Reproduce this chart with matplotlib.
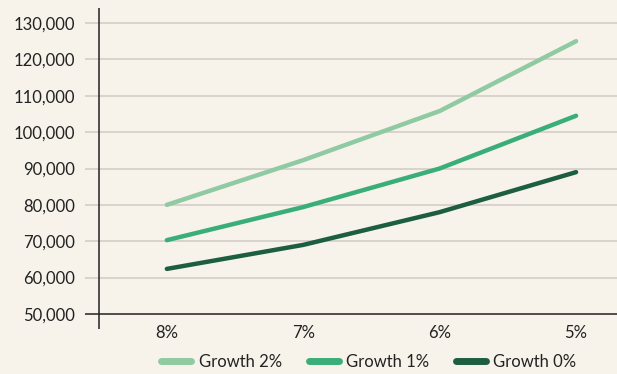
import matplotlib
matplotlib.use("Agg")
import matplotlib.pyplot as plt
from matplotlib.ticker import FuncFormatter

categories = ["8%", "7%", "6%", "5%"]
growth_2 = [80000, 92300, 105800, 125000]
growth_1 = [70300, 79400, 90000, 104500]
growth_0 = [62400, 69000, 78000, 89000]
series_names = ["Growth 2%", "Growth 1%", "Growth 0%"]
y_ticks = [50000, 60000, 70000, 80000, 90000, 100000, 110000, 120000, 130000]

colors = ["#8fcaa2", "#3aae78", "#1d5e40"]
bg = "#f7f3eb"

plt.rcParams['font.family'] = ['Lato', 'DejaVu Sans']

W, H = 617, 374
fig = plt.figure(figsize=(W / 100, H / 100), dpi=100, facecolor=bg)
ax = fig.add_axes([85 / W, 1 - 329 / H, (W - 85) / W, (329 - 8) / H])
ax.set_facecolor(bg)

for s in ax.spines.values():
    s.set_visible(False)

x = list(range(len(categories)))
for vals, name, c in zip([growth_2, growth_1, growth_0], series_names, colors):
    ax.plot(x, vals, color=c, lw=3.2, solid_capstyle='round', label=name, zorder=3)

ax.set_xlim(-0.6, 3.3)
ax.set_ylim(45876, 134124)
ax.set_yticks(y_ticks)
ax.yaxis.set_major_formatter(FuncFormatter(lambda v, p: f"{int(v):,}"))
ax.set_xticks(x)
ax.set_xticklabels(categories)
for t in y_ticks:
    if t == y_ticks[0]:
        ax.axhline(t, color="#222222", lw=1.1, zorder=2)
    else:
        ax.axhline(t, color="#cfcbc4", lw=1.1, zorder=1)
ax.axvline(-0.5, color="#222222", lw=1.1, zorder=2)

ax.tick_params(axis='both', length=0, labelsize=12, colors="#222222")
ax.tick_params(axis='y', pad=7)
ax.tick_params(axis='x', pad=-3)

leg = fig.legend(loc='lower center', bbox_to_anchor=(0.598, -0.03), ncol=3, frameon=False,
                 fontsize=12, handlelength=1.8, handletextpad=0.45, columnspacing=1.6,
                 labelcolor="#222222")
for h in leg.legend_handles:
    h.set_linewidth(5)
    h.set_solid_capstyle('round')

fig.savefig("out.png", dpi=100, facecolor=bg)
